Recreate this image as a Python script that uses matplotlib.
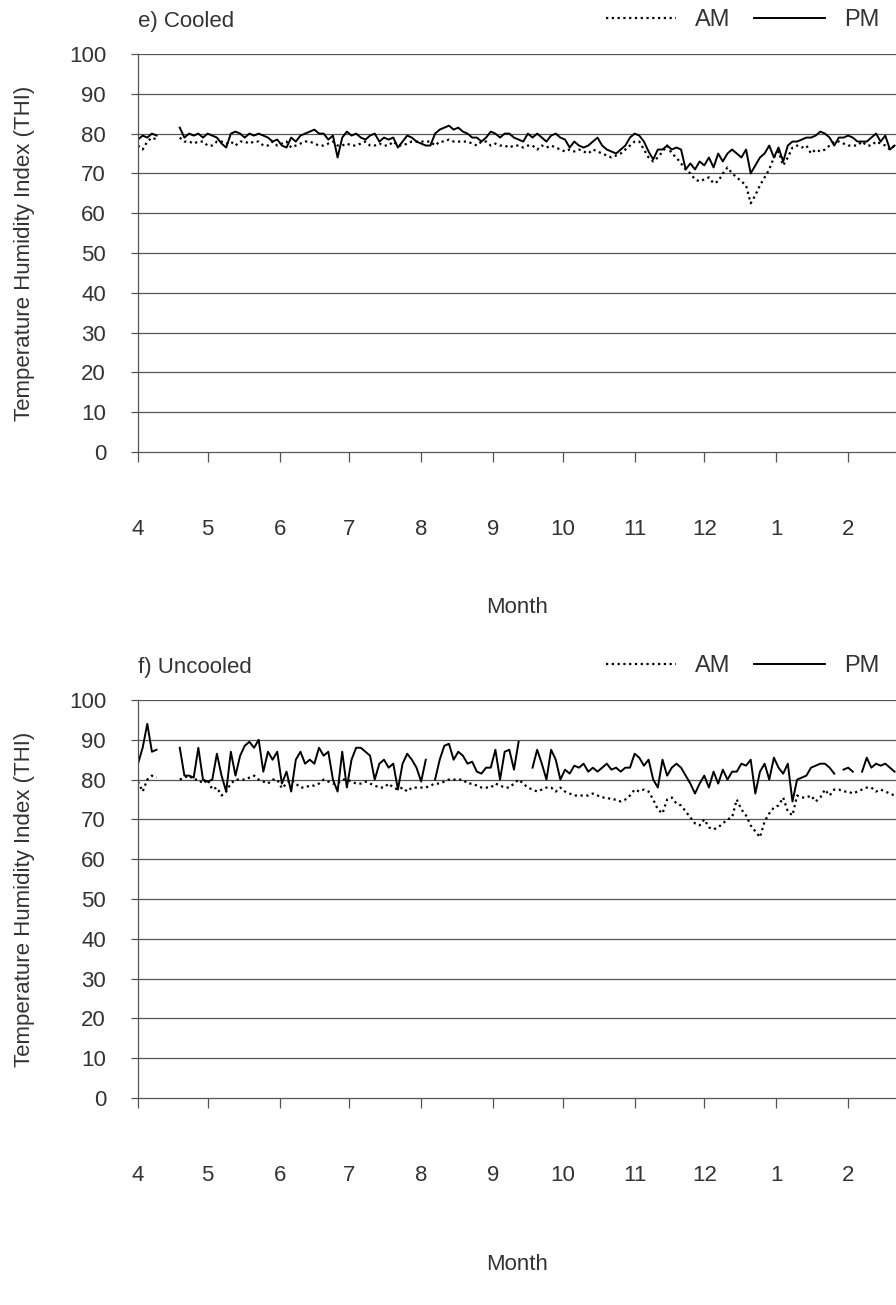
import numpy as np
import matplotlib
matplotlib.use("Agg")
from matplotlib import pyplot as plt

plt.rcParams["font.family"] = ["Liberation Sans", "DejaVu Sans"]

nan = np.nan

# month labels, placed at the first day of each month (day 0 = 1 April)
month_labels = ["4", "5", "6", "7", "8", "9", "10", "11", "12", "1", "2"]
month_start_day = [0, 30, 61, 91, 122, 153, 183, 214, 244, 275, 306]

# THI values read every 2nd day from 1 April
cooled_pm = [78.5, 79.5, 79, 80, 79.5, nan, nan, nan, nan, 81.5,
             79, 80, 79.5, 80, 79, 80, 79.5, 79, 77.5, 76.5,
             80, 80.5, 80, 79, 80, 79.5, 80, 79.5, 79, 78,
             78.5, 77, 76.5, 79, 78, 79.5, 80, 80.5, 81, 80,
             80, 78.5, 79.5, 74, 79, 80.5, 79.5, 80, 79, 78.5,
             79.5, 80, 78, 79, 78.5, 79, 76.5, 78, 79.5, 79,
             78, 77.5, 77, 77, 80, 81, 81.5, 82, 81, 81.5,
             80.5, 80, 79, 79, 78, 79, 80.5, 80, 79, 80,
             80, 79, 78.5, 78, 80, 79, 80, 79, 78, 79.5,
             80, 79, 78.5, 76.5, 78, 77, 76.5, 77, 78, 79,
             77, 76, 75.5, 75, 76, 77, 79, 80, 79.5, 78,
             75.5, 73.5, 76, 76, 77, 76, 76.5, 76, 71, 72.5,
             71, 73, 72, 74, 71.5, 75, 73, 75, 76, 75,
             74, 76, 70, 72, 74, 75, 77, 74, 76.5, 73,
             77, 78, 78, 78.5, 79, 79, 79.5, 80.5, 80, 79,
             77, 79, 79, 79.5, 79, 78, 78, 78, 79, 80,
             78, 79.5, 76, 77]
cooled_am = [77, 76, 78, 79, 78.5, nan, nan, nan, nan, 79,
             78, 78, 77.5, 78, 78, 77, 77, 78, 78, 77.5,
             78, 77, 78, 78, 77.5, 78, 78, 77, 77, 78,
             77, 77.5, 78, 76.5, 77, 77.5, 78, 78, 77.5, 77,
             77, 77.5, 78, 77, 77, 77.5, 77, 77, 77.5, 78,
             77, 77, 77.5, 77, 77, 78, 77, 77, 77.5, 78,
             78, 78, 78, 78, 77, 78, 78, 78.5, 78, 78,
             78, 78, 77.5, 77, 78, 78, 77, 77.5, 77, 77,
             76.5, 77, 77, 76.5, 77, 77, 76, 77, 76.5, 77,
             76.5, 76, 75.5, 76, 75.5, 76, 75.5, 75, 76, 75.5,
             75, 74.5, 74, 74.5, 75, 76, 77, 78, 78, 76,
             74, 73, 74, 75.5, 77, 75, 74, 72.5, 71, 70,
             68.5, 68, 68.5, 69, 67.5, 68, 70, 71.5, 70, 69,
             68, 67, 62.5, 64.5, 67, 69, 71, 74, 75.5, 72,
             74, 76.5, 77, 76.5, 77, 75, 76, 75.5, 76, 77,
             78, 78, 77.5, 77, 77, 77, 78, 77, 77, 78,
             77.5, 77, 76, 77]

uncooled_pm = [84, 88, 94, 87, 87.5, nan, nan, nan, nan, 88,
               81, 81, 80.5, 88, 80, 79.5, 80, 86.5, 81, 77,
               87, 81, 86, 88.5, 89.5, 88, 90, 82, 87, 85,
               87, 79, 82, 77, 85, 87, 84, 85, 84, 88,
               86, 87, 80, 77, 87, 78, 85, 88, 88, 87,
               86, 80, 84, 85, 83, 84, 77.5, 84, 86.5, 85,
               83, 79.5, 85, nan, 80, 85, 88.5, 89, 85, 87,
               86, 84, 84.5, 82, 81.5, 83, 83, 87.5, 80, 87,
               87.5, 82.5, 89.5, nan, nan, 83, 87.5, 84, 80, 87.5,
               85, 80, 82.5, 81.5, 83.5, 83, 84, 82, 83, 82,
               83, 84, 82.5, 83, 82, 83, 83, 86.5, 85.5, 83.5,
               85, 80, 78, 85, 81, 83, 84, 83, 81, 79,
               76.5, 79, 81, 78, 82, 79, 82.5, 80, 82, 82,
               84, 83.5, 85, 76.5, 82, 84, 80, 85.5, 83, 81.5,
               84, 74.5, 80, 80.5, 81, 83, 83.5, 84, 84, 83,
               81.5, nan, 82.5, 83, 82, nan, 82, 85.5, 83, 84,
               83.5, 84, 83, 82]
uncooled_am = [79.5, 77, 80, 81, 80.5, nan, nan, nan, nan, 80,
               80.5, 81, 80, 80, 79, 80, 77.5, 78, 76, 77,
               79, 80, 80, 80, 80.5, 81, 80, 79.5, 79, 80,
               80, 77.8, 79, 80, 79, 78, 78, 78.5, 78.5, 79,
               80, 79.5, 79, 79, 80, 80, 79.5, 79, 79, 79.5,
               79, 78.5, 78, 78, 79, 78, 77.5, 78, 77, 78,
               78, 78, 78, 78.5, 79, 79, 79.5, 80, 80, 80,
               80, 79, 79, 78.5, 78, 78, 78, 79, 78.5, 78,
               78, 79, 80, 79, 78, 77.5, 77, 77.5, 78, 78,
               77, 78, 77, 76.5, 76, 76, 76, 76, 76.5, 76,
               75.5, 75.5, 75, 75, 74.5, 75, 76, 77.5, 77, 77.5,
               77, 75, 72.5, 71.5, 75, 75.5, 74, 73.5, 72, 70.5,
               69, 68.5, 70, 68, 67.5, 68, 69, 70, 70.5, 75,
               72.5, 71, 68.5, 67, 65.5, 69.5, 71.5, 73, 73.5, 75.5,
               72, 71, 76, 75.5, 75.5, 76, 74.5, 75.5, 77.5, 76,
               77.5, 77.5, 77, 77, 76.5, 77, 77.5, 78, 78, 77,
               77.5, 77, 76.5, 76]

panels = [("e) Cooled", cooled_am, cooled_pm),
          ("f) Uncooled", uncooled_am, uncooled_pm)]

W, H = 896, 1305
fig = plt.figure(figsize=(W / 100, H / 100), dpi=100)

# pixel layout of each plot area: (y of 100, y of 0, x-label pad)
boxes = [(54, 452, 41), (700, 1098, 49)]
left = 138
txt = "#333333"
grid_col = "#555555"

for (title, am, pm), (ytop, ybot, xpad) in zip(panels, boxes):
    ax = fig.add_axes([left / W, 1 - ybot / H, 1 - left / W + 0.001, (ybot - ytop) / H])
    days_am = 2 * np.arange(len(am))
    days_pm = 2 * np.arange(len(pm))
    ax.plot(days_am, am, color="black", linestyle=(0, (1, 1.6)), linewidth=1.6, label="AM")
    ax.plot(days_pm, pm, color="black", linestyle="-", linewidth=1.4, label="PM")

    ax.set_xlim(0, 327)
    ax.set_ylim(0, 100)
    ax.set_yticks(range(0, 101, 10))
    for v in range(10, 101, 10):
        ax.axhline(v, color=grid_col, linewidth=0.9, zorder=0)

    ax.set_xticks(month_start_day)
    ax.set_xticklabels(month_labels)
    for s in ["top", "right"]:
        ax.spines[s].set_visible(False)
    for s in ["left", "bottom"]:
        ax.spines[s].set_color(grid_col)
        ax.spines[s].set_linewidth(0.9)
    ax.tick_params(axis="x", direction="out", length=7, width=0.9, color=grid_col,
                   pad=41, labelsize=16, labelcolor=txt)
    ax.tick_params(axis="y", direction="out", length=5, width=0.9, color=grid_col,
                   pad=18, labelsize=16, labelcolor=txt)

    ax.set_ylabel("Temperature Humidity Index (THI)", fontsize=16, color=txt, labelpad=24)
    ax.set_xlabel("Month", fontsize=16, color=txt, labelpad=xpad)

    fig.text(left / W, 1 - (ytop - 33) / H, title, fontsize=16, color=txt, va="center", ha="left")
    ax.legend(loc="center right", bbox_to_anchor=(1.005, 1 + 34 / (ybot - ytop)),
              ncol=2, frameon=False, fontsize=17, handlelength=3.0, columnspacing=1.0,
              handletextpad=0.8, labelcolor=txt)

fig.savefig("out.png", dpi=100)
